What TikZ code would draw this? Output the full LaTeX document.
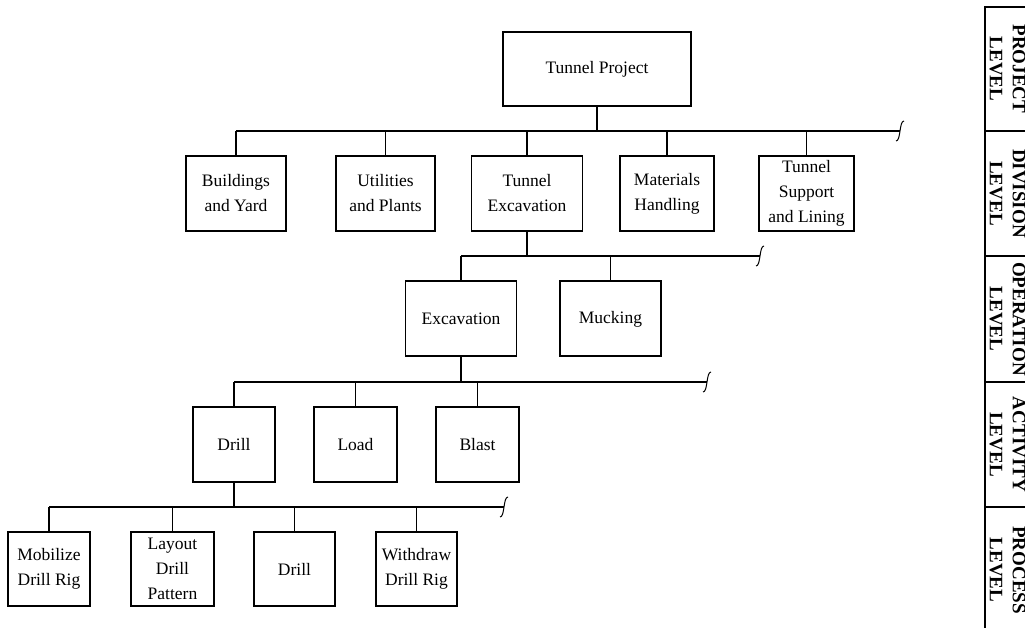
\documentclass[tikz,border=0pt]{standalone}
\usepackage{fontspec}
\setmainfont{Liberation Serif}
\begin{document}
\begin{tikzpicture}[x=1pt,y=-1pt,line width=1.1pt,
  box/.style={draw,line width=1.1pt,align=center,inner sep=0pt,font=\fontsize{17.5}{25}\selectfont},
  lvl/.style={rotate=-90,align=center,inner sep=0pt,font=\fontsize{19}{23}\bfseries\selectfont},
  squig/.pic={\draw[line width=1pt] (-4,10) .. controls (1,10) and (-1,-10) .. (4,-10);}
]
\useasboundingbox (0,0) rectangle (1025,628);
% level 0
\node[box,minimum width=188pt,minimum height=74pt] (tp) at (597,69) {Tunnel Project};
% level 1
\node[box,minimum width=100pt,minimum height=75pt] (by) at (236,193.5) {Buildings\\and Yard};
\node[box,minimum width=99pt,minimum height=75pt] (up) at (385.5,193.5) {Utilities\\and Plants};
\node[box,minimum width=111pt,minimum height=75pt] (te) at (527,193.5) {Tunnel\\Excavation};
\node[box,minimum width=94pt,minimum height=75pt] (mh) at (667,193.5) {Materials\\Handling};
\node[box,minimum width=95pt,minimum height=75pt] (ts) at (806.5,193.5) {Tunnel\\Support\\and Lining};
% level 2
\node[box,minimum width=111pt,minimum height=75pt] (ex) at (461,318.5) {Excavation};
\node[box,minimum width=101pt,minimum height=75pt] (mu) at (610.5,318.5) {\strut Mucking};
% level 3
\node[box,minimum width=82pt,minimum height=75pt] (dr) at (234,444.5) {Drill};
\node[box,minimum width=83pt,minimum height=75pt] (lo) at (355.5,444.5) {Load};
\node[box,minimum width=83pt,minimum height=75pt] (bl) at (477.5,444.5) {Blast};
% level 4
\node[box,minimum width=82pt,minimum height=74pt] (mo) at (49,569) {Mobilize\\Drill Rig};
\node[box,minimum width=83pt,minimum height=74pt] (la) at (172.5,569) {Layout\\Drill\\Pattern};
\node[box,minimum width=81pt,minimum height=74pt] (dd) at (294.5,569) {Drill};
\node[box,minimum width=81pt,minimum height=74pt] (wd) at (416.5,569) {Withdraw\\Drill Rig};
% bus ends
\coordinate (e1) at (900,131);
\coordinate (e2) at (760,256);
\coordinate (e3) at (707,382);
\coordinate (e4) at (504,507);
% connectors level 1
\draw (tp.south) -- (tp.south |- e1);
\draw (by.north |- e1) -- (e1);
\foreach \n in {by,up,te,mh,ts} \draw (\n.north) -- (\n.north |- e1);
\pic at (e1) {squig};
% level 2
\draw (te.south) -- (te.south |- e2);
\draw (ex.north |- e2) -- (e2);
\foreach \n in {ex,mu} \draw (\n.north) -- (\n.north |- e2);
\pic at (e2) {squig};
% level 3
\draw (ex.south) -- (ex.south |- e3);
\draw (dr.north |- e3) -- (e3);
\foreach \n in {dr,lo,bl} \draw (\n.north) -- (\n.north |- e3);
\pic at (e3) {squig};
% level 4
\draw (dr.south) -- (dr.south |- e4);
\draw (mo.north |- e4) -- (e4);
\foreach \n in {mo,la,dd,wd} \draw (\n.north) -- (\n.north |- e4);
\pic at (e4) {squig};
% level table
\draw (985,628) -- (985,7) -- (1025,7);
\foreach \y in {131,256,382,507} \draw (985,\y) -- (1025,\y);
\node[lvl] (l0) at (1007.5,69) {PROJECT\\LEVEL};
\node[lvl] (l1) at (1007.5,193.5) {DIVISION\\LEVEL};
\node[lvl] (l2) at (1007.5,319) {OPERATION\\LEVEL};
\node[lvl] (l3) at (1007.5,444.5) {ACTIVITY\\LEVEL};
\node[lvl] (l4) at (1007.5,570) {PROCESS\\LEVEL};
\end{tikzpicture}
\end{document}
